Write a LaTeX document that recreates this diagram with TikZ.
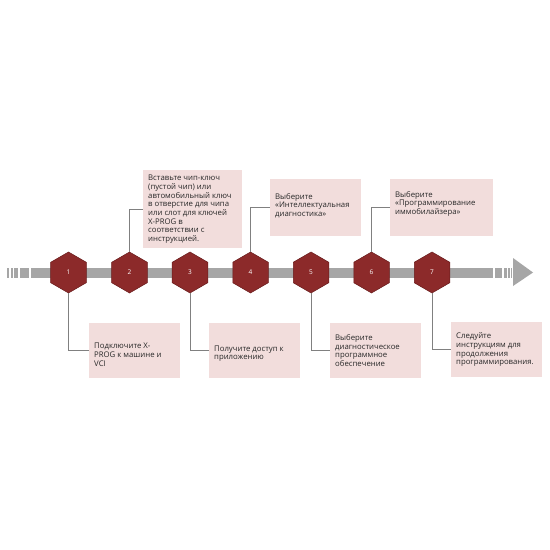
\documentclass[tikz,border=0pt]{standalone}
\usepackage{fontspec}
\setmainfont{Open Sans}
\usetikzlibrary{shapes.geometric}
\definecolor{hexred}{RGB}{140,42,42}
\definecolor{hexedge}{RGB}{105,28,28}
\definecolor{bargray}{RGB}{166,166,166}
\definecolor{boxpink}{RGB}{242,221,220}
\definecolor{linegray}{RGB}{128,128,128}
\definecolor{txt}{RGB}{40,40,40}
\tikzset{
  hexnode/.style={regular polygon, regular polygon sides=6, shape border rotate=30,
    minimum size=41bp, inner sep=0pt, fill=hexred, draw=hexedge, line width=0.5bp,
    text=white, font=\fontsize{6.5}{7}\selectfont},
  stepbox/.style={rectangle, fill=boxpink, draw=none, inner sep=0pt, anchor=north west},
  steptext/.style={anchor=west, align=left, inner sep=0pt, text=txt,
    font=\fontsize{7.8}{8.7}\selectfont},
  conn/.style={draw=linegray, line width=0.9bp},
  barfill/.style={fill=bargray}
}
\begin{document}
\begin{tikzpicture}[x=1bp,y=-1bp]
\useasboundingbox (0,0) rectangle (550,550);
\fill[white] (0,0) rectangle (550,550);
% bar
\fill[barfill] (7,267.5) rectangle (9,278);
\fill[barfill] (10.5,267.5) rectangle (12.5,278);
\fill[barfill] (14,267.5) rectangle (18,278);
\fill[barfill] (20,267.5) rectangle (29,278);
\fill[barfill] (31,267.5) rectangle (493,278);
\fill[barfill] (494.5,267.5) rectangle (502,278);
\fill[barfill] (503.5,267.5) rectangle (506.5,278);
\fill[barfill] (508,267.5) rectangle (510,278);
\fill[barfill] (511,267.5) rectangle (512,278);
\fill[barfill] (513,258) -- (533,272.5) -- (513,286) -- cycle;
% hexagons
\node[hexnode] (h1) at (68.5,272.5) {1};
\node[hexnode] (h2) at (129.5,272.5) {2};
\node[hexnode] (h3) at (190,272.5) {3};
\node[hexnode] (h4) at (250.5,272.5) {4};
\node[hexnode] (h5) at (311,272.5) {5};
\node[hexnode] (h6) at (371.5,272.5) {6};
\node[hexnode] (h7) at (432,272.5) {7};
% boxes
\node[stepbox, minimum width=91bp, minimum height=55bp] (b1) at (89,323) {};
\node[stepbox, minimum width=99bp, minimum height=78bp] (b2) at (143,170) {};
\node[stepbox, minimum width=91bp, minimum height=55bp] (b3) at (209,323) {};
\node[stepbox, minimum width=91bp, minimum height=57bp] (b4) at (270,179) {};
\node[stepbox, minimum width=91bp, minimum height=55bp] (b5) at (330,323) {};
\node[stepbox, minimum width=103bp, minimum height=57bp] (b6) at (390,179) {};
\node[stepbox, minimum width=91bp, minimum height=55bp] (b7) at (451,322) {};
% texts
\node[steptext] (t1) at ([xshift=5bp,yshift=-4bp]b1.west) {Подключите X-\\PROG к машине и\\VCI};
\node[steptext] (t2) at ([xshift=5bp]b2.west) {Вставьте чип-ключ\\(пустой чип) или\\автомобильный ключ\\в отверстие для чипа\\или слот для ключей\\X-PROG в\\соответствии с\\инструкцией.};
\node[steptext] (t3) at ([xshift=5bp,yshift=-3bp]b3.west) {Получите доступ к\\приложению};
\node[steptext] (t4) at ([xshift=5bp,yshift=2bp]b4.west) {Выберите\\«Интеллектуальная\\диагностика»};
\node[steptext] (t5) at ([xshift=5bp]b5.west) {Выберите\\диагностическое\\программное\\обеспечение};
\node[steptext] (t6) at ([xshift=5bp,yshift=4bp]b6.west) {Выберите\\«Программирование\\иммобилайзера»};
\node[steptext] (t7) at ([xshift=5bp]b7.west) {Следуйте\\инструкциям для\\продолжения\\программирования.};
% connectors
\draw[conn] (h1.south) |- (b1.west);
\draw[conn] (h2.north) |- (b2.west);
\draw[conn] (h3.south) |- (b3.west);
\draw[conn] (h4.north) |- (b4.west);
\draw[conn] (h5.south) |- (b5.west);
\draw[conn] (h6.north) |- (b6.west);
\draw[conn] (h7.south) |- (b7.west);
\end{tikzpicture}
\end{document}
